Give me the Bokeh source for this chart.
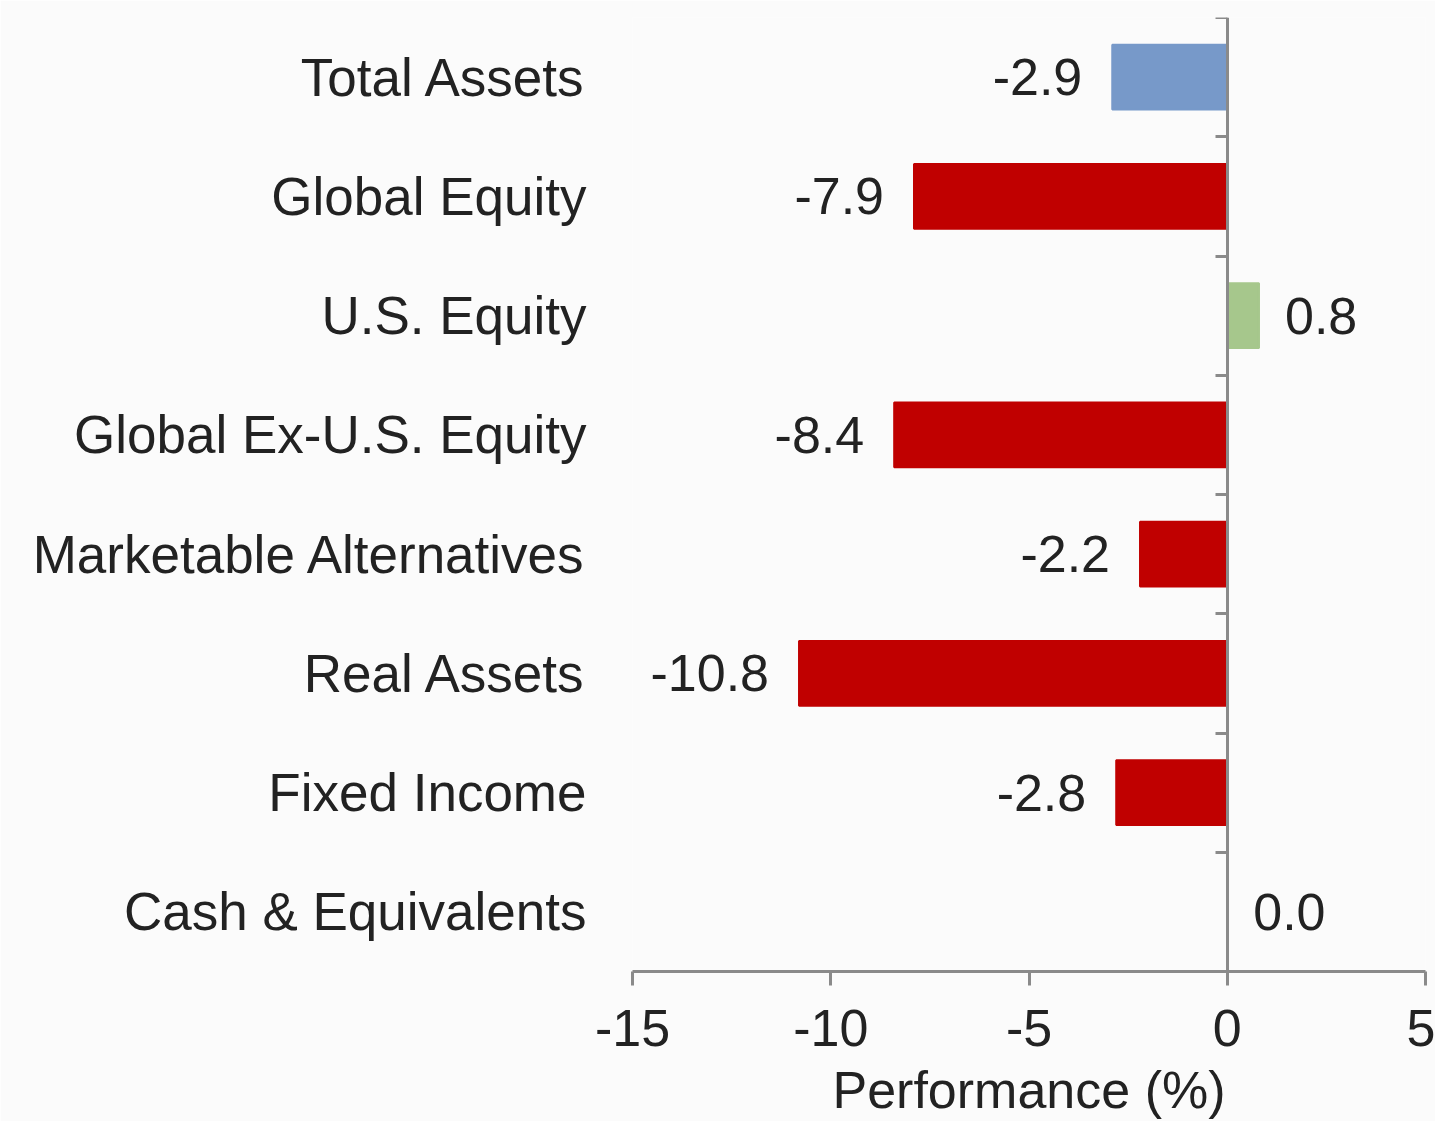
from bokeh.plotting import figure
from bokeh.models import ColumnDataSource, FixedTicker, LinearAxis, Range1d
from bokeh.embed import file_html
from bokeh.resources import INLINE

categories = ["Total Assets", "Global Equity", "U.S. Equity", "Global Ex-U.S. Equity",
              "Marketable Alternatives", "Real Assets", "Fixed Income", "Cash & Equivalents"]
values = [-2.9, -7.9, 0.8, -8.4, -2.2, -10.8, -2.8, 0.0]
x_ticks = [-15, -10, -5, 0, 5]

BLUE, RED, GREEN = "#7799c9", "#c00000", "#a6c78c"
FONT = "Liberation Sans"
TEXT = "#222222"
AXIS = "#8a8a8a"

n = len(categories)
ypos = [n - 1 - i + 0.5 for i in range(n)]
colors = [BLUE if i == 0 else (RED if v < 0 else GREEN) for i, v in enumerate(values)]
labels = [f"{v:.1f}" for v in values]

src = ColumnDataSource(dict(y=ypos, v=values, c=colors, lab=labels))
neg = ColumnDataSource(dict(y=[y for y, v in zip(ypos, values) if v < 0],
                            v=[v for v in values if v < 0],
                            lab=[l for l, v in zip(labels, values) if v < 0]))
pos = ColumnDataSource(dict(y=[y for y, v in zip(ypos, values) if v >= 0],
                            v=[v for v in values if v >= 0],
                            lab=[l for l, v in zip(labels, values) if v >= 0]))

p = figure(width=1435, height=1121, output_backend="svg", toolbar_location=None,
           x_range=Range1d(-15, 5), y_range=Range1d(0, n),
           min_border_left=632, min_border_right=10, min_border_top=17, min_border_bottom=148,
           background_fill_color="#fbfbfb", border_fill_color="#fbfbfb")
p.outline_line_color = None
p.grid.visible = False

p.hbar(y="y", left=0, right="v", height=0.545, source=src, fill_color="c",
       line_color="c", line_width=2)

p.text(x="v", y="y", text="lab", source=neg, x_offset=-30, text_align="right",
       text_baseline="middle", text_font={"value": FONT}, text_font_size="52px",
       text_color=TEXT)
p.text(x="v", y="y", text="lab", source=pos, x_offset=26, text_align="left",
       text_baseline="middle", text_font={"value": FONT}, text_font_size="52px",
       text_color=TEXT)

# category labels axis
ya = p.yaxis[0]
ya.ticker = FixedTicker(ticks=ypos)
ya.major_label_overrides = {y: c for y, c in zip(ypos, categories)}
ya.axis_line_color = None
ya.major_tick_line_color = None
ya.minor_tick_line_color = None
ya.major_label_standoff = 40
ya.major_label_text_font = FONT
ya.major_label_text_font_size = "53px"
ya.major_label_text_color = TEXT

# zero axis with separator ticks
sep_ticks = list(range(1, n + 1))
za = LinearAxis(fixed_location=0, ticker=FixedTicker(ticks=sep_ticks),
                major_label_overrides={t: "" for t in sep_ticks},
                major_tick_out=12, major_tick_in=0,
                axis_line_color=AXIS, axis_line_width=3, major_tick_line_color=AXIS,
                major_tick_line_width=3, minor_tick_line_color=None)
p.add_layout(za, "left")

xa = p.xaxis[0]
xa.ticker = FixedTicker(ticks=x_ticks)
xa.major_label_overrides = {t: str(t) for t in x_ticks}
xa.axis_line_color = AXIS
xa.axis_line_width = 3
xa.major_tick_line_color = AXIS
xa.major_tick_line_width = 3
xa.major_tick_out = 14
xa.major_tick_in = 0
xa.minor_tick_line_color = None
xa.major_label_standoff = 24
xa.major_label_text_font = FONT
xa.major_label_text_font_size = "52px"
xa.major_label_text_color = TEXT
xa.axis_label = "Performance (%)"
xa.axis_label_text_font = FONT
xa.axis_label_text_font_size = "52px"
xa.axis_label_text_font_style = "normal"
xa.axis_label_text_color = TEXT
xa.axis_label_standoff = 12

open("out.html", "w").write(file_html(p, INLINE))
